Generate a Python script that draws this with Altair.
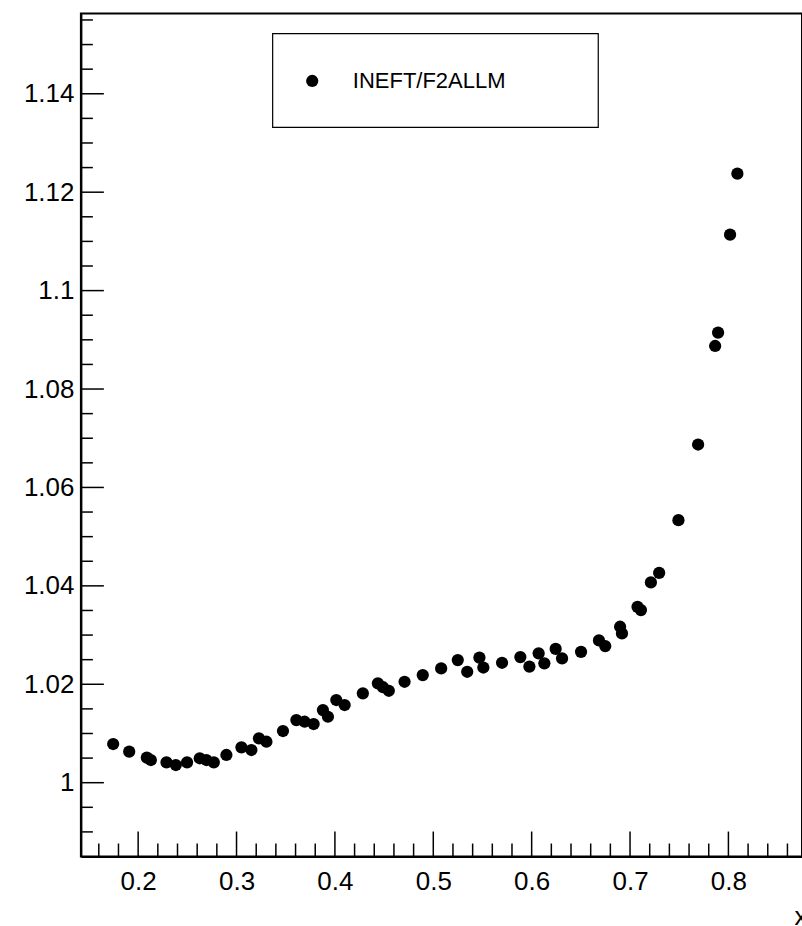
import altair as alt
import pandas as pd

series_name = "INEFT/F2ALLM"

x_vals = [0.1746, 0.1909, 0.2088, 0.2129, 0.2288, 0.2383, 0.2497, 0.2626, 0.2694, 0.2769,
          0.2897, 0.3050, 0.3151, 0.3228, 0.3304, 0.3472, 0.3608, 0.3692, 0.3784, 0.3878,
          0.3929, 0.4014, 0.4099, 0.4284, 0.4437, 0.4489, 0.4548, 0.4708, 0.4893, 0.5080,
          0.5249, 0.5345, 0.5469, 0.5509, 0.5699, 0.5885, 0.5977, 0.6071, 0.6129, 0.6244,
          0.6309, 0.6502, 0.6684, 0.6748, 0.6899, 0.6918, 0.7076, 0.7111, 0.7212, 0.7296,
          0.7492, 0.7692, 0.7865, 0.7895, 0.8017, 0.8091]
y_vals = [1.00786, 1.00630, 1.00508, 1.00461, 1.00414, 1.00359, 1.00414, 1.00496, 1.00461, 1.00414,
          1.00563, 1.00719, 1.00664, 1.00902, 1.00833, 1.01050, 1.01273, 1.01239, 1.01192, 1.01476,
          1.01340, 1.01680, 1.01578, 1.01816, 1.02019, 1.01940, 1.01868, 1.02051, 1.02187, 1.02323,
          1.02492, 1.02254, 1.02543, 1.02340, 1.02437, 1.02553, 1.02360, 1.02628, 1.02425, 1.02719,
          1.02526, 1.02660, 1.02892, 1.02776, 1.03170, 1.03034, 1.03574, 1.03507, 1.04070, 1.04265,
          1.05335, 1.06872, 1.08875, 1.09147, 1.11137, 1.12376]

y_major = [1.00, 1.02, 1.04, 1.06, 1.08, 1.10, 1.12, 1.14]
y_minor = [0.990, 0.995, 1.005, 1.010, 1.015, 1.025, 1.030, 1.035, 1.045, 1.050, 1.055,
           1.065, 1.070, 1.075, 1.085, 1.090, 1.095, 1.105, 1.110, 1.115, 1.125, 1.130,
           1.135, 1.145, 1.150, 1.155]
x_major = [0.2, 0.3, 0.4, 0.5, 0.6, 0.7, 0.8]
x_minor = [0.16, 0.18, 0.22, 0.24, 0.26, 0.28, 0.32, 0.34, 0.36, 0.38, 0.42, 0.44, 0.46, 0.48,
           0.52, 0.54, 0.56, 0.58, 0.62, 0.64, 0.66, 0.68, 0.72, 0.74, 0.76, 0.78, 0.82, 0.84, 0.86]

FONT = "Liberation Sans"
W, H = 722, 844

df = pd.DataFrame({"x": x_vals, "y": y_vals, "series": series_name})
xs = alt.Scale(domain=[0.1418, 0.8748], nice=False, zero=False)
ys = alt.Scale(domain=[0.985, 1.1563], nice=False, zero=False)

x_axis = alt.Axis(
    values=x_major, format="~g", ticks=False, tickSize=0, grid=False,
    domainColor="black", domainWidth=2, labelFont=FONT, labelFontSize=26,
    labelColor="black", labelPadding=12, labelFlush=False, labelOverlap=False,
    title="x", titleFont=FONT, titleFontSize=26, titleFontWeight="normal",
    titleColor="black", titleX=714, titleY=60, titleAlign="left",
    titleBaseline="middle")
y_axis = alt.Axis(
    values=y_major, format="~g", ticks=False, tickSize=0, grid=False,
    domainColor="black", domainWidth=2, labelFont=FONT, labelFontSize=26,
    labelColor="black", labelPadding=7, labelFlush=False, labelOverlap=False,
    title=None)

points = alt.Chart(df).mark_circle(size=150, opacity=1).encode(
    x=alt.X("x:Q", scale=xs, axis=x_axis),
    y=alt.Y("y:Q", scale=ys, axis=y_axis),
    color=alt.Color("series:N", scale=alt.Scale(domain=[series_name], range=["black"]),
                    legend=alt.Legend(orient="none", legendX=220.6, legendY=56.5,
                                      title=None, padding=0, labelFont=FONT,
                                      labelFontSize=22, labelColor="black",
                                      labelOffset=29.7, symbolType="circle",
                                      symbolSize=150, symbolStrokeWidth=0)),
)

def yticks(vals, length):
    return alt.Chart(pd.DataFrame({"y": vals})).mark_rule(color="black", strokeWidth=1.5).encode(
        y=alt.Y("y:Q", scale=ys, axis=y_axis), x=alt.value(0), x2=alt.value(length))

def xticks(vals, length):
    return alt.Chart(pd.DataFrame({"x": vals})).mark_rule(color="black", strokeWidth=1.5).encode(
        x=alt.X("x:Q", scale=xs, axis=x_axis), y=alt.value(H), y2=alt.value(H - length))

legend_box = alt.Chart(pd.DataFrame({"a": [0]})).mark_rect(
    fill=None, stroke="black", strokeWidth=1.2).encode(
    x=alt.value(192), x2=alt.value(518), y=alt.value(20), y2=alt.value(114))

chart = alt.layer(
    points, yticks(y_minor, 12), yticks(y_major, 23), xticks(x_minor, 13), xticks(x_major, 25),
    legend_box
).properties(
    width=W, height=H,
    autosize=alt.AutoSizeParams(type="none"),
    padding={"left": 81, "top": 13, "right": 0, "bottom": 69},
    background="white",
).configure_view(stroke="black", strokeWidth=2)

chart.save("out.html", embed_options={"renderer": "svg", "actions": False})
